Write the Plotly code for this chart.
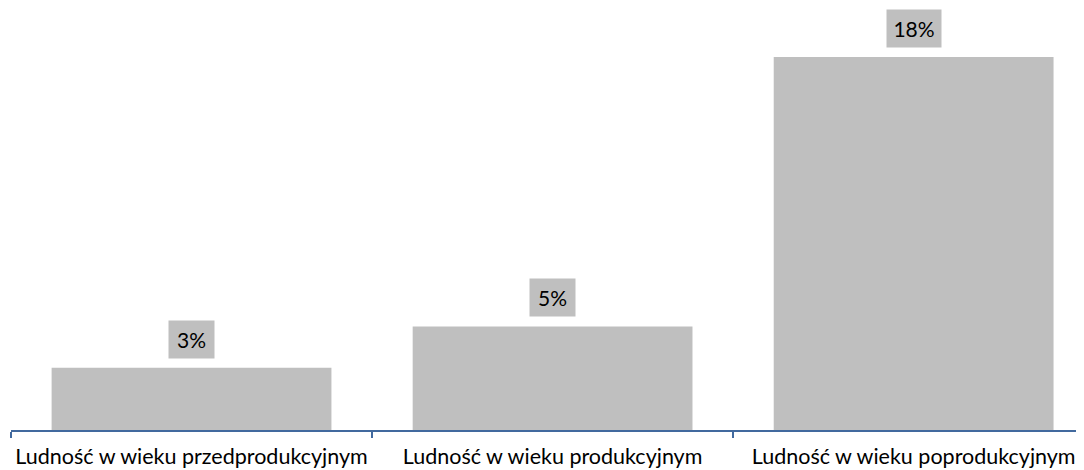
import plotly.graph_objects as go

categories = ["Ludność w wieku przedprodukcyjnym", "Ludność w wieku produkcyjnym", "Ludność w wieku poprodukcyjnym"]
values = [3.0, 5.0, 18.0]
labels = ["3%", "5%", "18%"]

FONT = "Lato"

fig = go.Figure(go.Bar(x=categories, y=values, marker=dict(color="#BFBFBF", line=dict(width=0)), width=0.775))

for c, v, t in zip(categories, values, labels):
    fig.add_annotation(x=c, y=v, text=t, showarrow=False, yanchor="bottom", yshift=9,
                       bgcolor="#BFBFBF", borderpad=5, width=35 if len(t) < 3 else 44, height=27,
                       font=dict(size=21, color="#000000", family=FONT))

fig.update_layout(
    width=1084, height=470,
    margin=dict(l=3, r=0, t=0, b=48, autoexpand=False),
    paper_bgcolor="white", plot_bgcolor="white",
    showlegend=False,
    font=dict(family=FONT, size=21.5, color="#000000"),
)
fig.update_xaxes(range=[-0.5, 2.494], showline=True, linecolor="#41699E", linewidth=1.5,
                 ticks="outside", ticklen=6, tickcolor="#41699E", tickwidth=1.5, tickson="boundaries",
                 showgrid=False, automargin=False, tickangle=0, ticklabelstandoff=6,
                 tickfont=dict(size=21.5, family=FONT, color="#000000"))
fig.update_yaxes(range=[0, 20.37], visible=False, showgrid=False, zeroline=False, automargin=False)

fig.write_html("out.html")
